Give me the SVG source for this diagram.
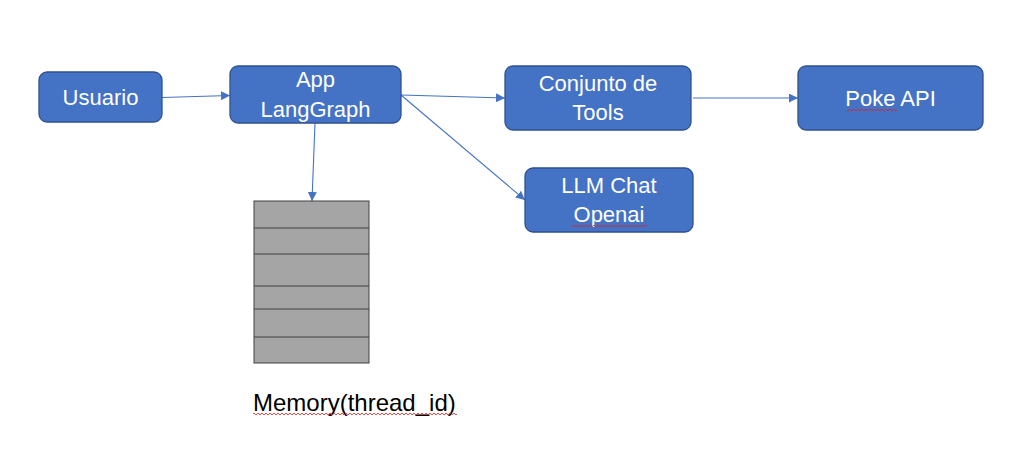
<svg xmlns="http://www.w3.org/2000/svg" width="1023" height="450" viewBox="0 0 1023 450">
<defs>
<style>
.node rect{fill:#4472C4;stroke:#2F528F;stroke-width:1.3}
.node text{fill:#fff;font-family:"Liberation Sans",Arial,sans-serif;font-size:22px;text-anchor:middle}
.conn line{stroke:#4472C4;stroke-width:1.1;marker-end:url(#arr)}
.mem rect{fill:#A5A5A5;stroke:#404040;stroke-width:1}
.mem line{stroke:#404040;stroke-width:1}
.lbl{font-family:"Liberation Sans",Arial,sans-serif;font-size:24px;fill:#000}
g rect.sq{fill:url(#squig);stroke:none}
</style>
<marker id="arr" viewBox="0 0 10 10" refX="10" refY="5" markerWidth="9" markerHeight="9" markerUnits="userSpaceOnUse" orient="auto">
<path d="M0,0 L10,5 L0,10 Z" fill="#4472C4"/>
</marker>
<pattern id="squig" width="4" height="4" patternUnits="userSpaceOnUse">
<path d="M0 3 L2 1 L4 3" stroke="#E02020" fill="none" stroke-width="0.8"/>
</pattern>
</defs>
<rect width="1023" height="450" fill="#fff"/>
<g id="connectors" class="conn">
<line x1="162" y1="97.5" x2="230" y2="95.5"/>
<line x1="401" y1="95" x2="505" y2="98"/>
<line x1="401" y1="95" x2="525" y2="200"/>
<line x1="693" y1="98" x2="798" y2="98"/>
<line x1="315" y1="123" x2="312" y2="201"/>
</g>
<g id="usuario" class="node">
<rect x="39" y="72" width="123" height="50" rx="8"/>
<text x="100.5" y="105">Usuario</text>
</g>
<g id="app" class="node">
<rect x="230" y="66" width="171" height="57" rx="8"/>
<text x="315.5" y="87">App</text>
<text x="315.5" y="117">LangGraph</text>
</g>
<g id="tools" class="node">
<rect x="505" y="66" width="186" height="64" rx="8"/>
<text x="598" y="91">Conjunto de</text>
<text x="598" y="120">Tools</text>
</g>
<g id="poke" class="node">
<rect x="798" y="66" width="185" height="64" rx="8"/>
<text x="890.5" y="106">Poke API</text>
<rect class="sq" x="847" y="108" width="50" height="4"/>
</g>
<g id="llm" class="node">
<rect x="525" y="168" width="168" height="64" rx="8"/>
<text x="609" y="193">LLM Chat</text>
<text x="609" y="222">Openai</text>
<rect class="sq" x="572" y="224" width="75" height="4"/>
</g>
<g id="memory" class="mem">
<rect x="254" y="201" width="115" height="162"/>
<line x1="254" y1="228" x2="369" y2="228"/>
<line x1="254" y1="254" x2="369" y2="254"/>
<line x1="254" y1="286" x2="369" y2="286"/>
<line x1="254" y1="309" x2="369" y2="309"/>
<line x1="254" y1="337" x2="369" y2="337"/>
<text class="lbl" x="253" y="411">Memory(thread_id)</text>
<rect class="sq" x="253" y="413" width="204" height="4"/>
</g>
</svg>
